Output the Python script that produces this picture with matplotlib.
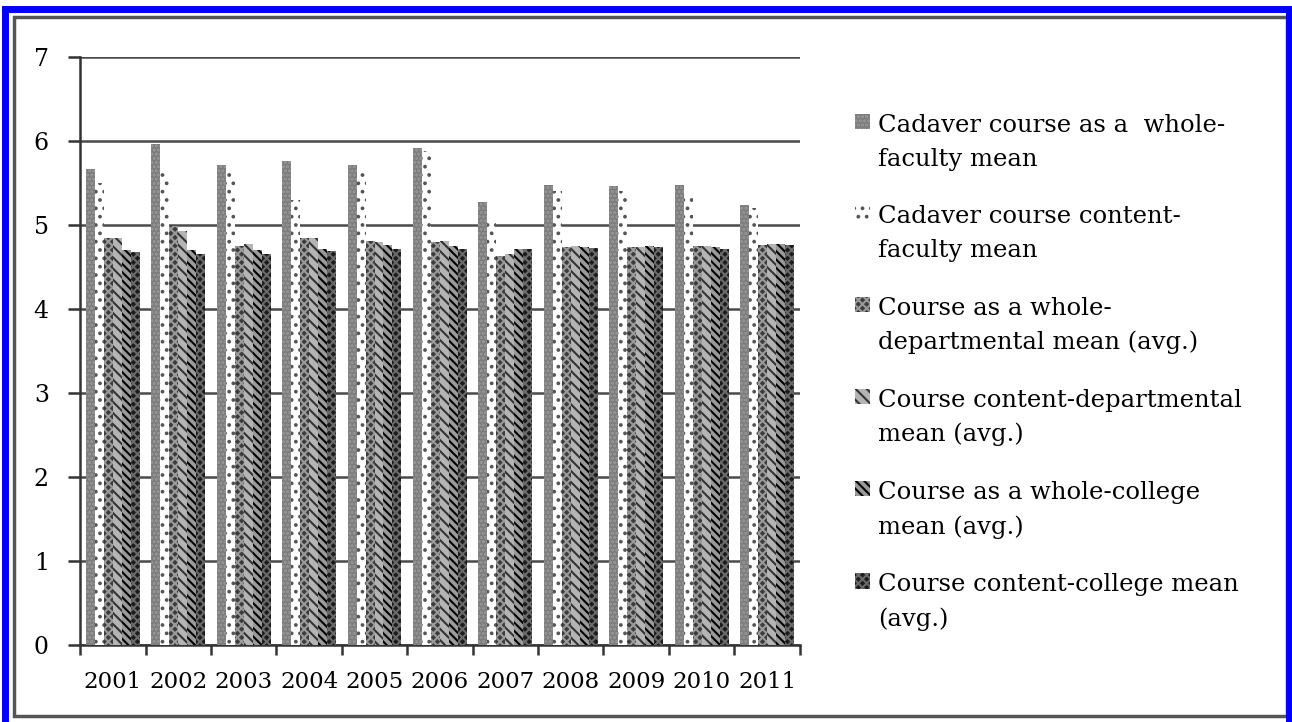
import matplotlib.pyplot as plt
import numpy as np
from matplotlib.patches import Rectangle

years = ['2001', '2002', '2003', '2004', '2005', '2006',
         '2007', '2008', '2009', '2010', '2011']

labels = [
    'Cadaver course as a  whole-\nfaculty mean',
    'Cadaver course content-\nfaculty mean',
    'Course as a whole-\ndepartmental mean (avg.)',
    'Course content-departmental\nmean (avg.)',
    'Course as a whole-college\nmean (avg.)',
    'Course content-college mean\n(avg.)',
]

cadaver_whole = [5.67, 5.96, 5.72, 5.76, 5.71, 5.92, 5.28, 5.48, 5.46, 5.48, 5.24]
cadaver_content = [5.50, 5.65, 5.67, 5.30, 5.65, 5.88, 5.05, 5.40, 5.40, 5.35, 5.20]
dept_whole = [4.85, 4.99, 4.75, 4.84, 4.81, 4.80, 4.63, 4.74, 4.74, 4.75, 4.76]
dept_content = [4.84, 4.93, 4.77, 4.84, 4.80, 4.81, 4.66, 4.75, 4.74, 4.75, 4.77]
college_whole = [4.70, 4.70, 4.70, 4.72, 4.76, 4.75, 4.72, 4.74, 4.75, 4.74, 4.77]
college_content = [4.68, 4.66, 4.65, 4.69, 4.72, 4.71, 4.71, 4.73, 4.74, 4.72, 4.76]

series = [cadaver_whole, cadaver_content, dept_whole,
          dept_content, college_whole, college_content]

# (facecolor, hatch colour, hatch)
styles = [
    ('#7c7c7c', '#9a9a9a', '....'),
    ('#ffffff', '#555555', '..'),
    ('#3c3c3c', '#9a9a9a', 'xxxx'),
    ('#b4b4b4', '#333333', '\\\\\\'),
    ('#9a9a9a', '#000000', '\\\\\\\\'),
    ('#1c1c1c', '#6a6a6a', 'xxxx'),
]

plt.rcParams['font.family'] = 'DejaVu Serif'
plt.rcParams['hatch.linewidth'] = 1.5

fig = plt.figure(figsize=(12.92, 7.22), dpi=100)
ax = fig.add_axes([0.062, 0.1066, 0.557, 0.8144])

x = np.arange(len(years))
w = 0.137
for i, vals in enumerate(series):
    fc, hc, hatch = styles[i]
    ax.bar(x + (i - 2.5) * w, vals, w, color=fc, edgecolor=hc,
           hatch=hatch, linewidth=0, label=labels[i], zorder=3)

ax.set_xlim(-0.5, len(years) - 0.5)
ax.set_ylim(0, 7)
ax.set_yticks(range(8))
ax.yaxis.grid(True, color='#4a4a4a', linewidth=1.8, zorder=0)
ax.set_axisbelow(True)

ax.set_xticks(np.arange(-0.5, len(years), 1.0))
ax.set_xticklabels([])
ax.set_xticks(x, minor=True)
ax.set_xticklabels(years, minor=True, fontsize=16.5)
ax.tick_params(axis='x', which='minor', length=0, pad=19)
ax.tick_params(axis='x', which='major', length=7.5, width=1.8, color='#333333')
ax.tick_params(axis='y', length=8.5, width=1.8, color='#333333',
               labelsize=17, pad=14)

for s in ['top', 'right']:
    ax.spines[s].set_visible(False)
for s in ['left', 'bottom']:
    ax.spines[s].set_color('#333333')
    ax.spines[s].set_linewidth(1.8)

leg = ax.legend(loc='upper left', bbox_to_anchor=(0.6525, 0.859),
                bbox_transform=fig.transFigure, frameon=False,
                fontsize=17.5, handlelength=0.6, handleheight=0.6,
                handletextpad=0.35, labelspacing=1.42, borderpad=0)
for t in leg.get_texts():
    t.set_linespacing(1.6)
# put each legend square next to the first line of its label
for col in leg._legend_handle_box.get_children():
    for item in col.get_children():
        item.align = 'top'

# dark inner frame and blue outer frame
fig.add_artist(Rectangle((0.011, 0.008), 0.985, 0.968, transform=fig.transFigure,
                         fill=False, edgecolor='#555555', linewidth=2.5))
fig.add_artist(Rectangle((0.004, -0.01), 0.994, 0.998, transform=fig.transFigure,
                         fill=False, edgecolor='#0000ff', linewidth=5))

fig.savefig('out.png', dpi=100)
